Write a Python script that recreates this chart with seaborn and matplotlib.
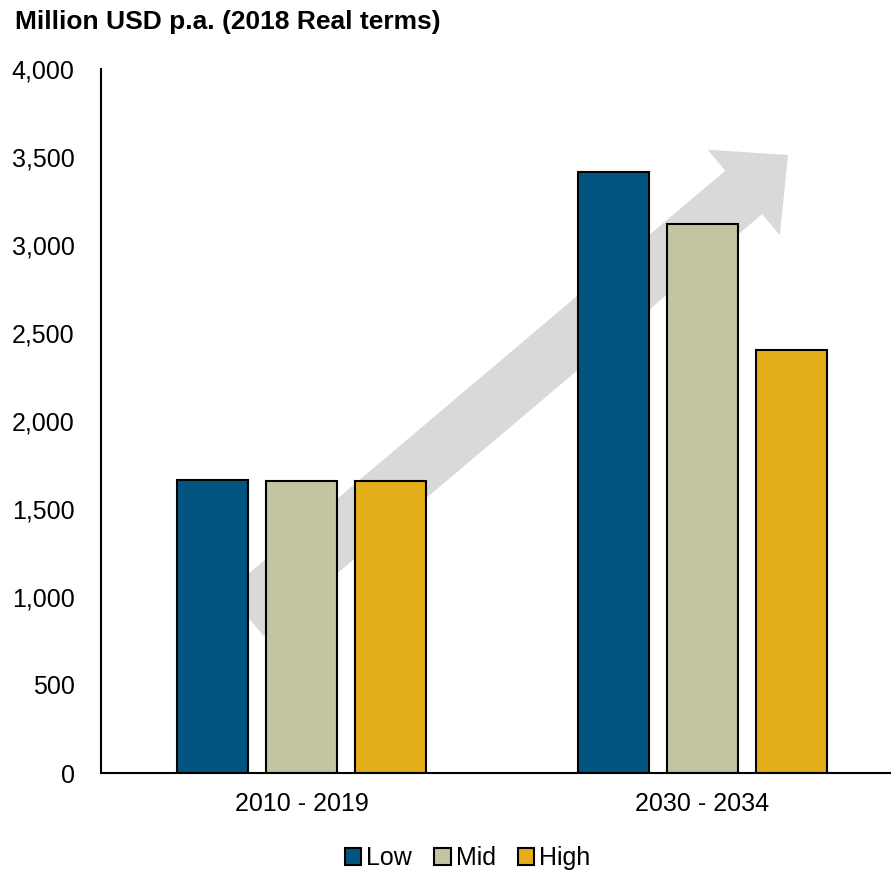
import matplotlib
matplotlib.use("Agg")
import matplotlib.pyplot as plt
import matplotlib.transforms as mtransforms
from matplotlib.patches import FancyArrow
import seaborn as sns
import pandas as pd

periods = ["2010 - 2019", "2030 - 2034"]
scenarios = ["Low", "Mid", "High"]
low_vals = [1665, 3415]
mid_vals = [1660, 3120]
high_vals = [1660, 2403]
colors = ["#02557F", "#C3C4A0", "#E3AE1A"]
y_ticks = [0, 500, 1000, 1500, 2000, 2500, 3000, 3500, 4000]

rows = []
for i, p in enumerate(periods):
    for s, vals in zip(scenarios, [low_vals, mid_vals, high_vals]):
        rows.append({"period": p, "scenario": s, "value": vals[i]})
df = pd.DataFrame(rows)

sns.set_style("white")
plt.rcParams["font.family"] = ["Liberation Sans", "DejaVu Sans"]
plt.rcParams["text.color"] = "black"
plt.rcParams["xtick.color"] = "black"
plt.rcParams["ytick.color"] = "black"
plt.rcParams["xtick.labelcolor"] = "black"
plt.rcParams["ytick.labelcolor"] = "black"

W, H = 891, 872
fig = plt.figure(figsize=(W / 100, H / 100), dpi=100)
ax = fig.add_axes([101 / W, (H - 773) / H, 1 - 101 / W, (773 - 69) / H])

sns.barplot(data=df, x="period", y="value", hue="scenario", order=periods,
            hue_order=scenarios, palette=colors, width=0.666, gap=0.2,
            edgecolor="black", linewidth=1.5, saturation=1, ax=ax, zorder=2)

# decorative growth arrow (drawn in pixel space, behind bars)
tail = (245, H - 614)
tip = (788, H - 155)
arrow = FancyArrow(tail[0], tail[1], tip[0] - tail[0], tip[1] - tail[1],
                   width=57, head_width=112, head_length=58,
                   length_includes_head=True, color="#D9D9D9", lw=0,
                   transform=mtransforms.IdentityTransform(), zorder=1)
arrow.set_clip_on(False)
ax.add_artist(arrow)

ax.set_ylim(0, 4000)
ax.set_xlim(-0.5, 1.47)
ax.set_yticks(y_ticks)
ax.set_yticklabels([f"{v:,}" for v in y_ticks])
ax.tick_params(axis="y", length=0, pad=19, labelsize=18, labelcolor="black")
ax.tick_params(axis="x", length=0, pad=14, labelsize=18, labelcolor="black")
ax.set_xlabel("")
ax.set_ylabel("")
for side in ["top", "right"]:
    ax.spines[side].set_visible(False)
for side in ["left", "bottom"]:
    ax.spines[side].set_color("black")
    ax.spines[side].set_linewidth(1.5)

fig.text(15 / W, (H - 22) / H, "Million USD p.a. (2018 Real terms)",
         fontsize=19, fontweight="bold", ha="left", va="center", color="black")

handles, labels = ax.get_legend_handles_labels()
leg = ax.legend(handles, labels, loc="center", bbox_to_anchor=(0.525, 14 / H),
                bbox_transform=fig.transFigure, ncol=3, frameon=False,
                fontsize=18, handlelength=0.65, handleheight=0.65,
                handletextpad=0.2, columnspacing=0.9)
for t in leg.get_texts():
    t.set_color("black")

fig.savefig("out.png", dpi=100)
